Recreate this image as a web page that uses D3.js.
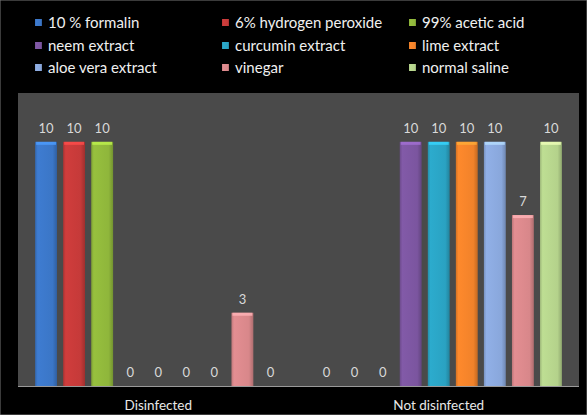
<!DOCTYPE html>
<html>
<head>
<meta charset="utf-8">
<script src="https://cdn.jsdelivr.net/npm/d3@7"></script>
<style>
  html, body { margin: 0; padding: 0; background: #000; }
  svg { display: block; font-family: Lato, "Open Sans", sans-serif; }
</style>
</head>
<body>
<svg id="chart" width="587" height="415"></svg>
<script>
// chart data
var categories = ['Disinfected', 'Not disinfected'];
var seriesNames = ['10 % formalin', '6% hydrogen peroxide', '99% acetic acid',
    'neem extract', 'curcumin extract', 'lime extract',
    'aloe vera extract', 'vinegar', 'normal saline'];
var seriesColors = ['#3b76c6', '#c53a39', '#8fb63b', '#7b559f', '#2aa2c2',
    '#f1822a', '#89a7db', '#d8878a', '#b4d28b'];
var disinfected = [10, 10, 10, 0, 0, 0, 0, 3, 0];
var notDisinfected = [0, 0, 0, 10, 10, 10, 10, 7, 10];
var yTicks = [0, 12];

var svg = d3.select('#chart');
var W = 587, H = 415;
var plot = {left: 18, right: 579, top: 93, bottom: 386};

svg.append('rect').attr('width', W).attr('height', H).attr('fill', '#000')
    .attr('stroke', '#777').attr('stroke-width', 1);

// gradients for the bevelled bars
var defs = svg.append('defs');
seriesColors.forEach(function(c, i) {
    var g = defs.append('linearGradient').attr('id', 'grad' + i)
        .attr('x1', 0).attr('x2', 1).attr('y1', 0).attr('y2', 0);
    var base = d3.color(c);
    g.append('stop').attr('offset', '0%').attr('stop-color', base.darker(0.35));
    g.append('stop').attr('offset', '12%').attr('stop-color', base.brighter(0.15));
    g.append('stop').attr('offset', '80%').attr('stop-color', base);
    g.append('stop').attr('offset', '100%').attr('stop-color', base.darker(0.6));
});

svg.append('rect')
    .attr('x', plot.left).attr('y', plot.top)
    .attr('width', plot.right - plot.left).attr('height', plot.bottom - plot.top)
    .attr('fill', '#4a4a4a');

var x0 = d3.scaleBand().domain(categories).range([plot.left, plot.right]);
var x1 = d3.scaleBand().domain(seriesNames)
    .range([x0.bandwidth() * 0.05, x0.bandwidth() * 0.95])
    .paddingInner(0.22).paddingOuter(0.11);
var y = d3.scaleLinear().domain(d3.extent(yTicks)).range([plot.bottom, plot.top]);

var data = categories.map(function(c, ci) {
    var vals = ci === 0 ? disinfected : notDisinfected;
    return {cat: c, values: seriesNames.map(function(s, i) {
        return {name: s, idx: i, value: vals[i]};
    })};
});

var groups = svg.selectAll('.grp').data(data).enter().append('g')
    .attr('class', 'grp')
    .attr('transform', function(d) { return 'translate(' + x0(d.cat) + ',0)'; });

var bars = groups.selectAll('.bar').data(function(d) { return d.values; })
    .enter().append('g').attr('class', 'bar');

bars.filter(function(d) { return d.value > 0; }).append('rect')
    .attr('x', function(d) { return x1(d.name); })
    .attr('y', function(d) { return y(d.value); })
    .attr('width', x1.bandwidth())
    .attr('height', function(d) { return y(0) - y(d.value); })
    .attr('fill', function(d) { return 'url(#grad' + d.idx + ')'; });

// light top bevel
bars.filter(function(d) { return d.value > 0; }).append('rect')
    .attr('x', function(d) { return x1(d.name) + 1; })
    .attr('y', function(d) { return y(d.value); })
    .attr('width', x1.bandwidth() - 2)
    .attr('height', 3)
    .attr('fill', function(d) { return d3.color(seriesColors[d.idx]).brighter(0.8); })
    .attr('opacity', 0.8);

bars.append('text')
    .attr('x', function(d) { return x1(d.name) + x1.bandwidth() / 2; })
    .attr('y', function(d) { return y(d.value) - 9; })
    .attr('text-anchor', 'middle')
    .attr('fill', '#d9d9d9')
    .attr('font-size', 13)
    .text(function(d) { return d.value; });

// baseline and category axis
svg.append('line')
    .attr('x1', plot.left).attr('x2', plot.right)
    .attr('y1', y(0) + 0.5).attr('y2', y(0) + 0.5)
    .attr('stroke', '#9a9a9a').attr('stroke-width', 1);

svg.selectAll('.cat').data(categories).enter().append('text')
    .attr('class', 'cat')
    .attr('x', function(d) { return x0(d) + x0.bandwidth() / 2; })
    .attr('y', 410)
    .attr('text-anchor', 'middle')
    .attr('fill', '#e8e8e8')
    .attr('font-size', 13.5)
    .text(function(d) { return d; });

// legend, 3 columns
var legCols = [35, 222, 409], legRows = [23, 46, 68];
var leg = svg.selectAll('.leg').data(seriesNames).enter().append('g')
    .attr('class', 'leg')
    .attr('transform', function(d, i) {
        return 'translate(' + legCols[i % 3] + ',' + legRows[Math.floor(i / 3)] + ')';
    });
leg.append('rect').attr('x', 0).attr('y', -4).attr('width', 7).attr('height', 7)
    .attr('fill', function(d, i) { return 'url(#grad' + i + ')'; });
leg.append('text').attr('x', 13).attr('y', 5)
    .attr('fill', '#f0f0f0').attr('font-size', 15)
    .text(function(d) { return d; });
</script>
</body>
</html>
